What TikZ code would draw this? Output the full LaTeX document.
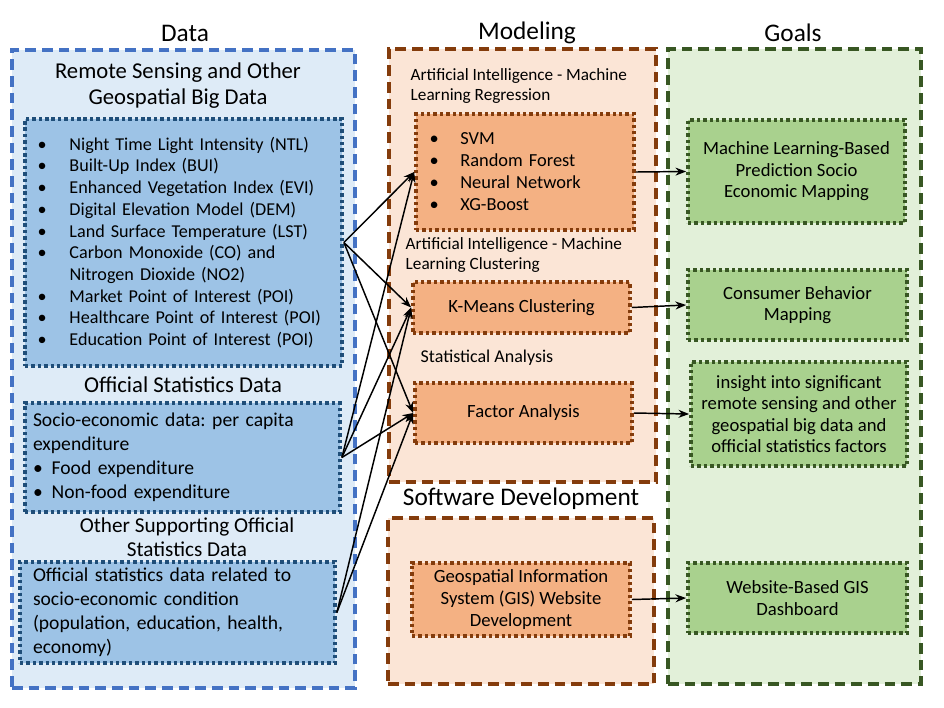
\documentclass[tikz,border=0pt]{standalone}
\usepackage{fontspec}
\setmainfont{Carlito}
\usepackage{xcolor}
\usetikzlibrary{positioning,arrows.meta}
\definecolor{databg}{HTML}{DEEBF7}
\definecolor{dataedge}{HTML}{4472C4}
\definecolor{datafill}{HTML}{9DC3E6}
\definecolor{datadot}{HTML}{1F4E79}
\definecolor{modelbg}{HTML}{FBE5D6}
\definecolor{modeledge}{HTML}{843C0C}
\definecolor{modelfill}{HTML}{F4B183}
\definecolor{goalbg}{HTML}{E2F0D9}
\definecolor{goaledge}{HTML}{385723}
\definecolor{goalfill}{HTML}{A9D18E}
\newcommand{\bul}[1]{\makebox[#1][l]{\textbullet}}
\frenchspacing

\begin{document}
\begin{tikzpicture}[x=0.75pt, y=-0.75pt,
    panel/.style={line width=2.4pt, dash pattern=on 8pt off 4.5pt, inner sep=0pt},
    card/.style={line width=2.8pt, dash pattern=on 2.6pt off 2.2pt, inner sep=0pt},
    datapanel/.style={panel, draw=dataedge, fill=databg},
    modelpanel/.style={panel, draw=modeledge, fill=modelbg},
    goalpanel/.style={panel, draw=goaledge, fill=goalbg},
    datacard/.style={card, draw=datadot, fill=datafill},
    modelcard/.style={card, draw=modeledge, fill=modelfill},
    goalcard/.style={card, draw=goaledge, fill=goalfill, align=center,
        font=\fontsize{14}{16.2}\selectfont},
    coltitle/.style={font=\fontsize{19}{22}\selectfont},
    subtitle/.style={align=center, font=\fontsize{17}{19.5}\selectfont},
    smalltitle/.style={align=left, font=\fontsize{12.9}{15}\selectfont},
    flow/.style={-{Stealth[length=8pt,width=6pt]}, line width=1.1pt}
]
    \useasboundingbox (0,0) rectangle (944,707);

    % column titles
    \node[coltitle] (datatitle) at (185,33) {Data};
    \node[coltitle] (modeltitle) at (527,33) {Modeling};
    \node[coltitle] (goaltitle) at (793,33) {Goals};

    % background panels
    \node[datapanel, minimum width=257.25pt, minimum height=478.5pt] (datapane) at (183.5,369) {};
    \node[modelpanel, minimum width=200.25pt, minimum height=324.75pt] (modelpane) at (522.5,265.5) {};
    \node[modelpanel, minimum width=199.5pt, minimum height=124.5pt] (softpane) at (521,601) {};
    \node[goalpanel, minimum width=189.75pt, minimum height=476.25pt] (goalpane) at (794.5,366.5) {};

    % data column
    \node[subtitle] (rstitle) at (178,86) {Remote Sensing and Other\\Geospatial Big Data};
    \node[datacard, minimum width=237.75pt, minimum height=185.25pt, text width=219pt,
          inner xsep=9.4pt, align=left, font=\fontsize{13.6}{16.3}\selectfont] (remote) at (183.5,242.5)
        {\bul{24pt}Night Time Light Intensity (NTL)\\
         \bul{24pt}Built-Up Index (BUI)\\
         \bul{24pt}Enhanced Vegetation Index (EVI)\\
         \bul{24pt}Digital Elevation Model (DEM)\\
         \bul{24pt}Land Surface Temperature (LST)\\
         \bul{24pt}Carbon Monoxide (CO) and\\
         \hspace*{24pt}Nitrogen Dioxide (NO2)\\
         \bul{24pt}Market Point of Interest (POI)\\
         \bul{24pt}Healthcare Point of Interest (POI)\\
         \bul{24pt}Education Point of Interest (POI)};
    \node[subtitle] (ostitle) at (183,385) {Official Statistics Data};
    \node[datacard, minimum width=236.25pt, minimum height=81.75pt, text width=224.25pt,
          inner xsep=6pt, align=left, font=\fontsize{14.7}{18}\selectfont] (official) at (182.5,457.5)
        {Socio-economic data: per capita\\
         expenditure\\
         \bul{14pt}Food expenditure\\
         \bul{14pt}Non-food expenditure};
    \node[subtitle, font=\fontsize{15.9}{18}\selectfont] (suptitle) at (187,537) {Other Supporting Official\\Statistics Data};
    \node[datacard, minimum width=236.25pt, minimum height=75.75pt, text width=216.75pt,
          inner xsep=9.75pt, align=left, font=\fontsize{14.7}{18}\selectfont] (support) at (177.5,612.5)
        {Official statistics data related to\\
         socio-economic condition\\
         (population, education, health,\\
         economy)};

    % modeling column
    \node[smalltitle, anchor=west] (regtitle) at (406,86) {Artificial Intelligence - Machine\\Learning Regression};
    \node[modelcard, minimum width=163.5pt, minimum height=87pt, text width=143pt,
          inner xsep=10.25pt, align=left, font=\fontsize{13.8}{16.5}\selectfont] (svm) at (525,172)
        {\bul{23pt}SVM\\
         \bul{23pt}Random Forest\\
         \bul{23pt}Neural Network\\
         \bul{23pt}XG-Boost};
    \node[smalltitle, anchor=west] (clustitle) at (401,255) {Artificial Intelligence - Machine\\Learning Clustering};
    \node[modelcard, minimum width=162.75pt, minimum height=38.25pt,
          font=\fontsize{14}{16}\selectfont] (kmeans) at (521.5,307.5) {K-Means Clustering};
    \node[smalltitle, anchor=west, font=\fontsize{13.5}{15}\selectfont] (stattitle) at (416,358) {Statistical Analysis};
    \node[modelcard, minimum width=162.75pt, minimum height=45pt,
          font=\fontsize{14}{16}\selectfont] (factor) at (523.5,413) {Factor Analysis};
    \node[subtitle, font=\fontsize{19}{22}\selectfont] (softtitle) at (521,499) {Software Development};
    \node[modelcard, minimum width=163.5pt, minimum height=54.75pt, align=center,
          font=\fontsize{14}{16.2}\selectfont] (gis) at (521,599.5)
        {Geospatial Information\\System (GIS) Website\\Development};

    % goals column
    \node[goalcard, minimum width=162.75pt, minimum height=77.25pt] (mlmap) at (796.5,171.5)
        {Machine Learning-Based\\Prediction Socio\\Economic Mapping};
    \node[goalcard, minimum width=164.25pt, minimum height=52.5pt] (consumer) at (797.5,305)
        {Consumer Behavior\\Mapping};
    \node[goalcard, minimum width=162pt, minimum height=78pt] (insight) at (799,414)
        {insight into significant\\remote sensing and other\\geospatial big data and\\official statistics factors};
    \node[goalcard, minimum width=164.25pt, minimum height=52.5pt] (dashboard) at (797.5,598)
        {Website-Based GIS\\Dashboard};

    % data to models
    \draw[flow] (remote.east) -- (svm.west);
    \draw[flow] (remote.east) -- (kmeans.west);
    \draw[flow] (remote.east) -- (factor.west);
    \draw[flow] (official.east) -- (svm.west);
    \draw[flow] (official.east) -- (kmeans.west);
    \draw[flow] (official.east) -- (factor.west);
    \draw[flow] (support.east) -- (kmeans.west);
    \draw[flow] (support.east) -- (factor.west);

    % models to goals
    \draw[flow] (svm.east) -- (mlmap.west);
    \draw[flow] (kmeans.east) -- (consumer.west);
    \draw[flow] (factor.east) -- (insight.west);
    \draw[flow] (gis.east) -- (dashboard.west);
\end{tikzpicture}
\end{document}
